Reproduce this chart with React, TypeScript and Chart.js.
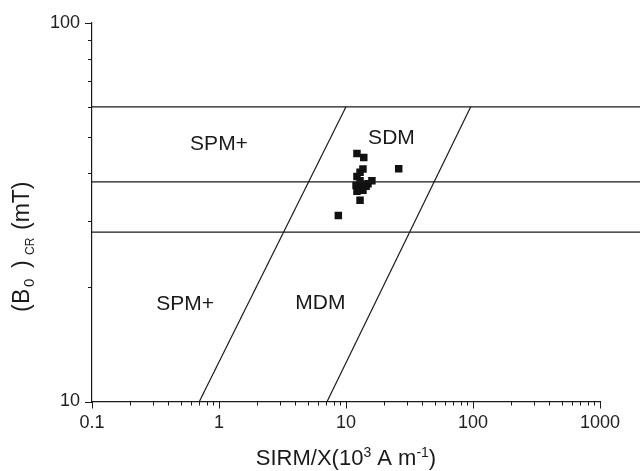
import React, { useEffect, useRef } from "react";
import { Chart, registerables } from "chart.js";
Chart.register(...registerables);

// measured samples
const sampleX = [12.2, 13.8, 13.6, 26.0, 12.2, 12.9, 12.0, 13.4, 14.4, 12.2, 13.6, 14.9, 16.0, 12.9, 12.9, 8.7];
const sampleY = [45.2, 44.1, 41.1, 41.2, 39.3, 38.3, 37.2, 37.4, 37.0, 35.9, 36.1, 37.6, 38.3, 40.3, 34.0, 31.0];

// boundary lines
const hLevels = [60, 38, 28];
const hLineX = [0.1, 2100];
const diag1X = [0.7, 10];
const diag1Y = [10, 60];
const diag2X = [7.1, 96];
const diag2Y = [10, 60];

// region labels
const regionText = ["SPM+", "SDM", "SPM+", "MDM"];
const regionX = [1.0, 22.8, 0.54, 6.28];
const regionY = [47.8, 49.6, 18.1, 18.2];

// ticks
const xMajor = [0.1, 1, 10, 100, 1000];
const xMajorLabels = ["0.1", "1", "10", "100", "1000"];
const yMajor = [10, 100];
const yMajorLabels = ["10", "100"];

const FONT = '"Liberation Sans", Arial, sans-serif';
const INK = "#1a1a1a";

function withMinors(majors: number[]) {
  const out: { value: number; major: boolean }[] = [];
  for (let i = 0; i < majors.length; i++) {
    out.push({ value: majors[i], major: true });
    if (i < majors.length - 1) {
      for (let k = 2; k <= 9; k++) out.push({ value: +(majors[i] * k).toPrecision(6), major: false });
    }
  }
  return out;
}

const overlayPlugin = {
  id: "overlay",
  afterDatasetsDraw(chart: any) {
    const { ctx, chartArea } = chart;
    const xs = chart.scales.x;
    const ys = chart.scales.y;
    ctx.save();
    // tick marks
    ctx.strokeStyle = INK;
    ctx.lineWidth = 1;
    xs.ticks.forEach((t: any) => {
      const px = Math.round(xs.getPixelForValue(t.value)) + 0.5;
      const len = t.major ? 7 : 4;
      ctx.beginPath();
      ctx.moveTo(px, chartArea.bottom);
      ctx.lineTo(px, chartArea.bottom + len);
      ctx.stroke();
    });
    ys.ticks.forEach((t: any) => {
      const py = Math.round(ys.getPixelForValue(t.value)) + 0.5;
      const len = t.major ? 7 : 4;
      ctx.beginPath();
      ctx.moveTo(chartArea.left, py);
      ctx.lineTo(chartArea.left - len, py);
      ctx.stroke();
    });
    // region labels
    ctx.fillStyle = INK;
    ctx.font = `21px ${FONT}`;
    ctx.textAlign = "center";
    ctx.textBaseline = "middle";
    regionText.forEach((s, i) => {
      ctx.fillText(s, xs.getPixelForValue(regionX[i]), ys.getPixelForValue(regionY[i]));
    });

    // x title with superscripts
    const big = `22px ${FONT}`;
    const small = `14px ${FONT}`;
    const parts: [string, string, number][] = [
      ["SIRM/X(10", big, 0],
      ["3", small, -8],
      [" A m", big, 0],
      ["-1", small, -8],
      [")", big, 0],
    ];
    let total = 0;
    parts.forEach(([s, f]) => {
      ctx.font = f;
      total += ctx.measureText(s).width;
    });
    let cx = (chartArea.left + chartArea.right) / 2 - total / 2;
    ctx.textAlign = "left";
    ctx.textBaseline = "alphabetic";
    parts.forEach(([s, f, dy]) => {
      ctx.font = f;
      ctx.fillText(s, cx, 465 + dy);
      cx += ctx.measureText(s).width;
    });

    // y title rotated with subscripts
    ctx.translate(29, 0);
    ctx.rotate(-Math.PI / 2);
    const yParts: [string, string, number, number][] = [
      ["(", `23px ${FONT}`, 312, 0],
      ["B", `23px ${FONT}`, 304, 0],
      ["0", `15px ${FONT}`, 287, 5],
      [")", `23px ${FONT}`, 268, 0],
      ["CR", `12px ${FONT}`, 255, 5],
      ["(mT)", `23px ${FONT}`, 230, 0],
    ];
    yParts.forEach(([s, f, start, dy]) => {
      ctx.font = f;
      ctx.fillText(s, -start, dy);
    });
    ctx.restore();
  },
};

export default function App() {
  const ref = useRef<HTMLCanvasElement | null>(null);
  useEffect(() => {
    if (!ref.current) return;
    const lineStyle = {
      showLine: true,
      borderColor: INK,
      borderWidth: 1.2,
      pointRadius: 0,
      fill: false,
      clip: false as any,
    };
    const datasets: any[] = [
      ...hLevels.map((lv) => ({
        ...lineStyle,
        data: hLineX.map((x) => ({ x, y: lv })),
      })),
      { ...lineStyle, data: diag1X.map((x, i) => ({ x, y: diag1Y[i] })) },
      { ...lineStyle, data: diag2X.map((x, i) => ({ x, y: diag2Y[i] })) },
      {
        data: sampleX.map((x, i) => ({ x, y: sampleY[i] })),
        pointStyle: "rect",
        pointRadius: 5.3,
        backgroundColor: "#111",
        borderWidth: 0,
        showLine: false,
      },
    ];
    const xTicks = withMinors(xMajor);
    const yTicks = withMinors(yMajor);
    const chart = new Chart(ref.current, {
      type: "scatter",
      data: { datasets },
      options: {
        animation: false,
        responsive: true,
        maintainAspectRatio: false,
        layout: { padding: { top: 22, right: 40, left: 0, bottom: 0 } },
        plugins: { legend: { display: false }, tooltip: { enabled: false } },
        scales: {
          x: {
            type: "logarithmic",
            min: 0.1,
            max: 1000,
            afterFit: (s: any) => {
              s.height = 69.5;
            },
            afterBuildTicks: (s: any) => {
              s.ticks = xTicks.map((t) => ({ ...t }));
            },
            grid: { display: false, drawTicks: false },
            border: { display: true, color: INK, width: 1.2 },
            ticks: {
              autoSkip: false,
              maxRotation: 0,
              padding: 11,
              color: "#222",
              font: { size: 18, family: FONT },
              callback: (v: any) => {
                const i = xMajor.findIndex((m) => Math.abs(m - v) < m * 1e-6);
                return i >= 0 ? xMajorLabels[i] : "";
              },
            },
          },
          y: {
            type: "logarithmic",
            min: 10,
            max: 100,
            afterFit: (s: any) => {
              s.width = 92;
            },
            afterBuildTicks: (s: any) => {
              s.ticks = yTicks.map((t) => ({ ...t }));
            },
            grid: { display: false, drawTicks: false },
            border: { display: true, color: INK, width: 1.2 },
            ticks: {
              autoSkip: false,
              padding: 12,
              color: "#222",
              font: { size: 18, family: FONT },
              callback: (v: any) => {
                const i = yMajor.findIndex((m) => Math.abs(m - v) < m * 1e-6);
                return i >= 0 ? yMajorLabels[i] : "";
              },
            },
          },
        },
      } as any,
      plugins: [overlayPlugin],
    });
    return () => chart.destroy();
  }, []);
  return (
    <div style={{ position: "absolute", left: 0, top: 0, width: 640, height: 471, background: "#fff" }}>
      <canvas ref={ref} />
    </div>
  );
}
